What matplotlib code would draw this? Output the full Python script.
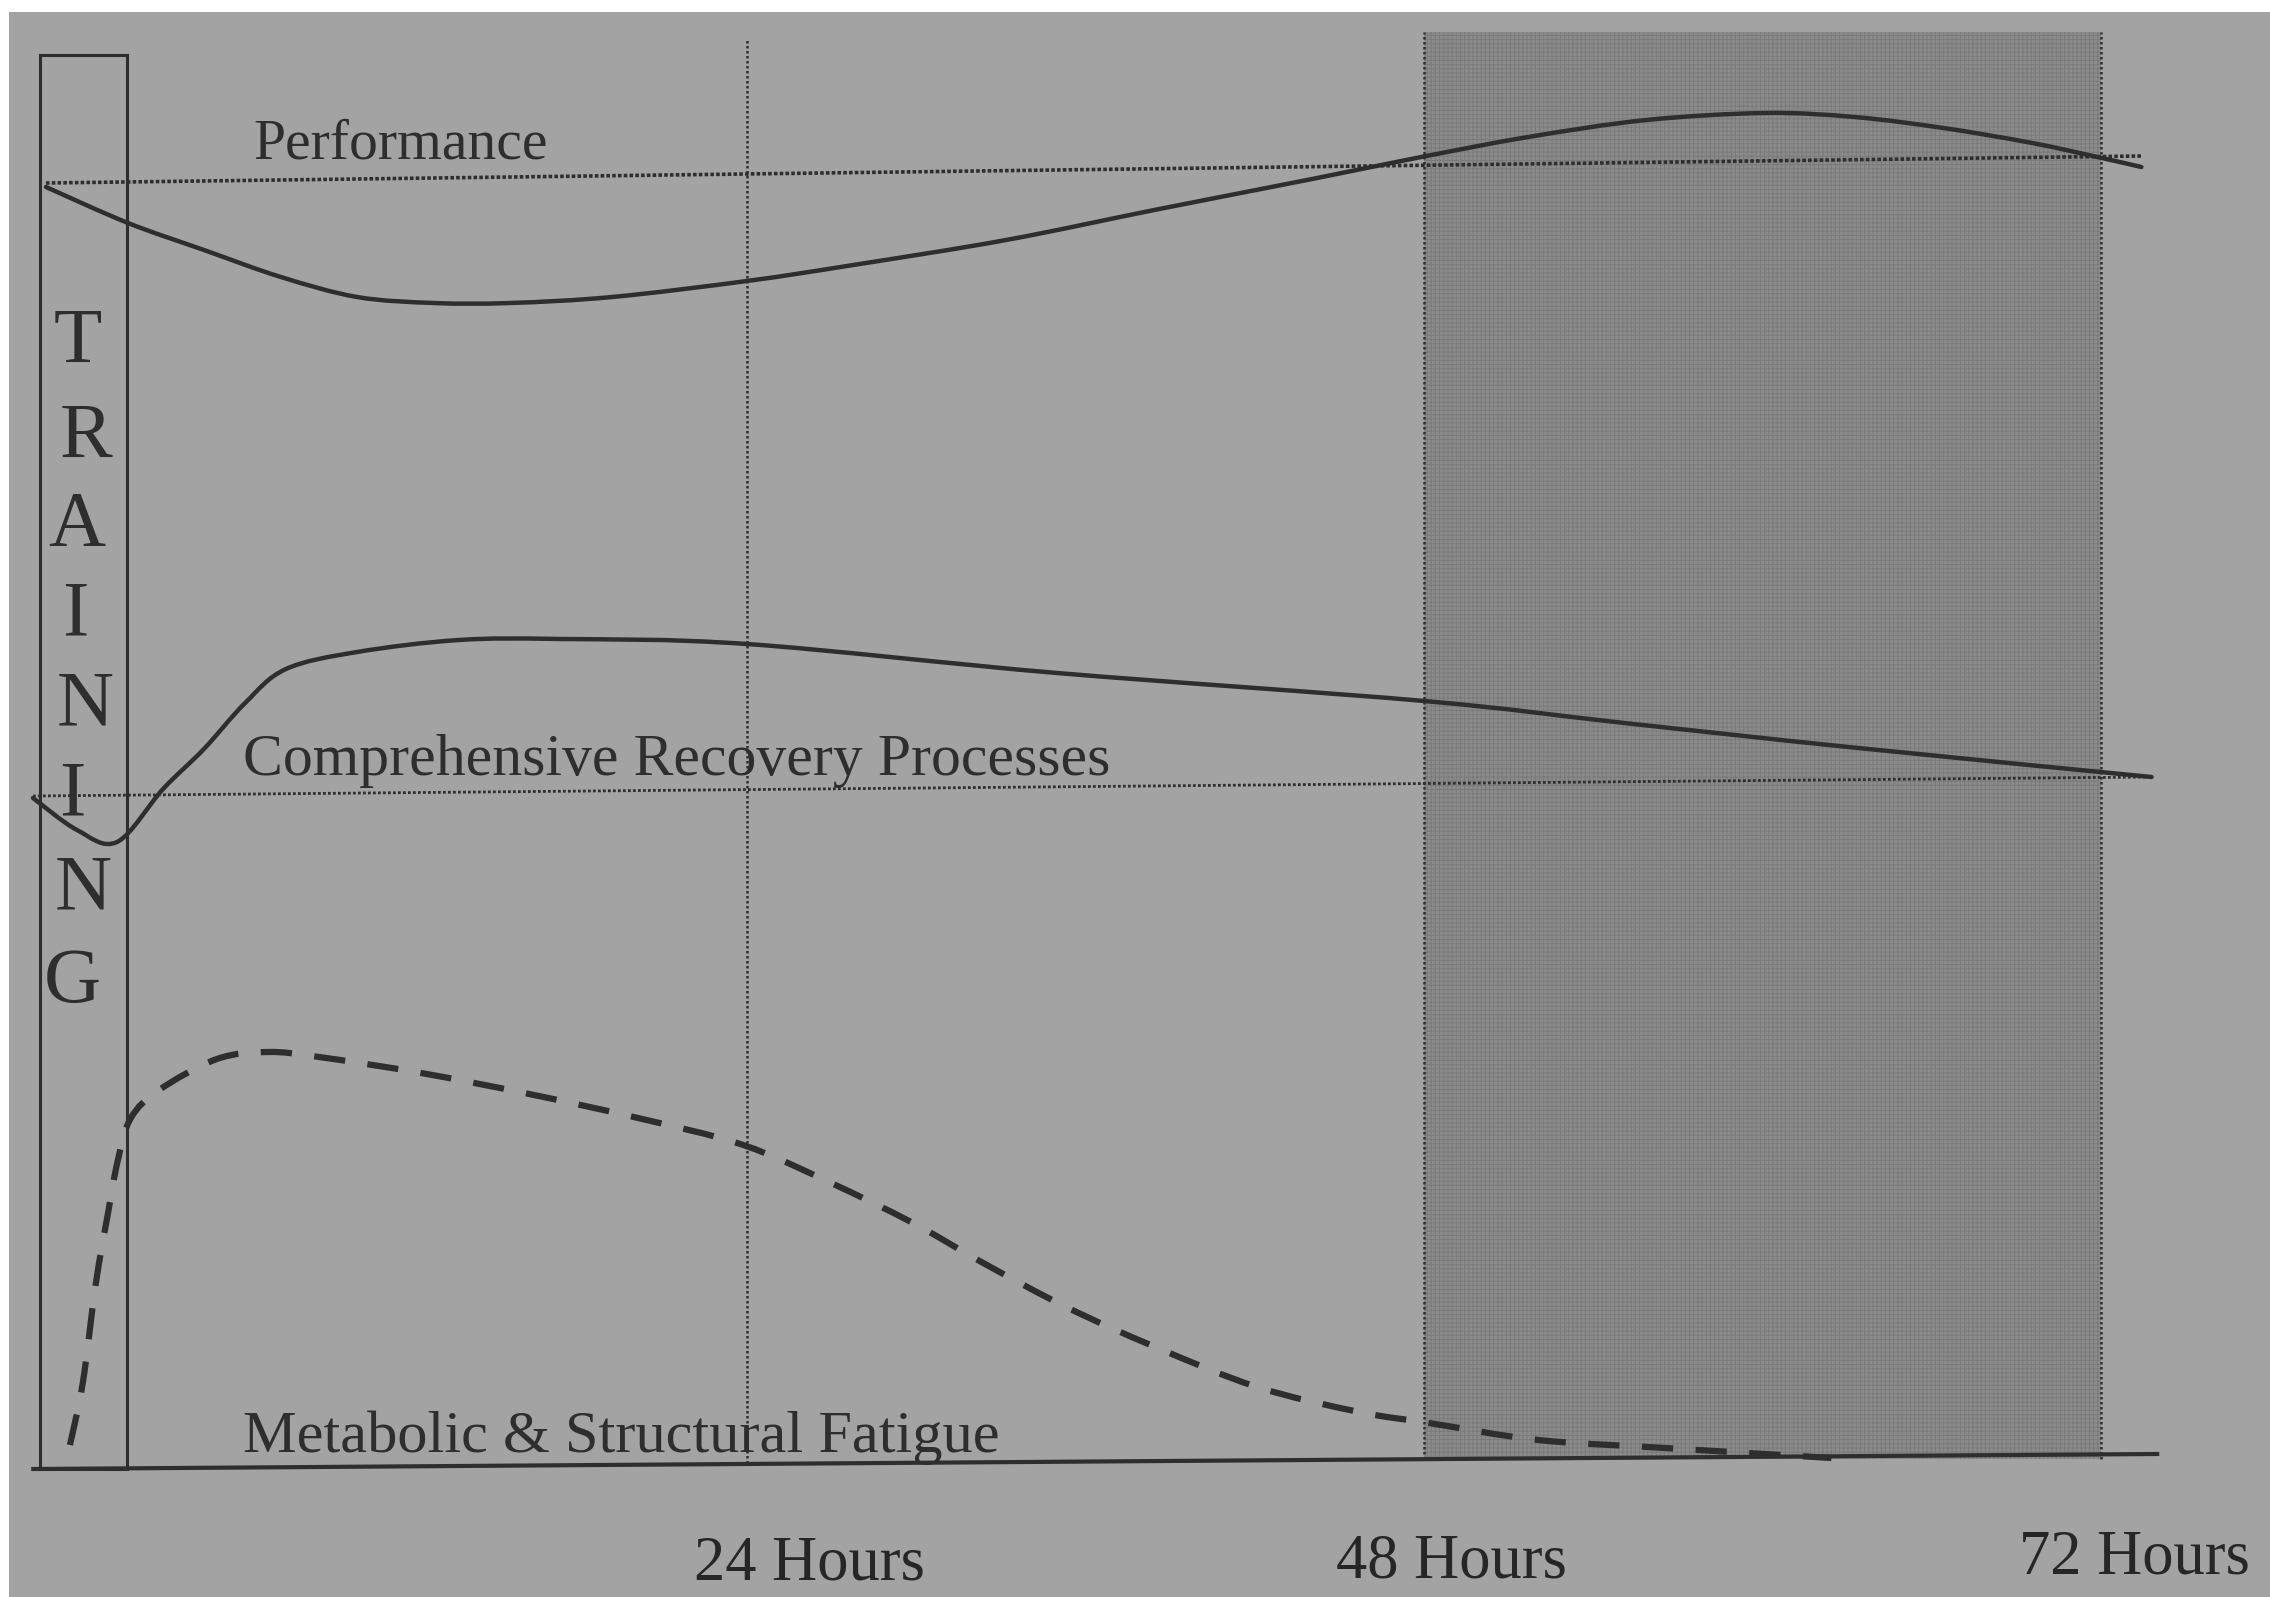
import numpy as np
import matplotlib
matplotlib.use("Agg")
import matplotlib.pyplot as plt
from matplotlib.patches import Rectangle, PathPatch
from matplotlib.path import Path

# hours after training (x) and arbitrary level (y)
perf_x = [-0.85, 2.06, 4.75, 7.48, 10.18, 12.91, 15.60, 19.22, 24.0, 27.77, 33.19,
          38.62, 44.04, 47.91, 51.70, 55.89, 60.11, 63.26, 66.42, 69.57, 71.88, 73.44]
perf_y = [127.8, 124.2, 121.5, 118.8, 116.8, 116.2, 116.2, 116.8, 118.4, 120.0, 122.5,
          125.6, 128.6, 130.8, 132.8, 134.5, 135.2, 134.8, 133.7, 132.2, 130.8, 129.8]
perf_base_x = [-0.85, 73.44]
perf_base_y = [128.2, 130.9]

recov_x = [-1.31, 0.25, 1.67, 3.30, 4.75, 6.21, 7.66, 10.18, 13.79, 17.41, 24.0,
           35.0, 48.01, 55.11, 63.05, 73.80]
recov_y = [66.7, 63.5, 62.3, 67.6, 71.6, 76.2, 79.6, 81.3, 82.5, 82.6, 82.1,
           79.2, 76.4, 74.2, 71.8, 68.8]
recov_base_x = [-1.31, 73.80]
recov_base_y = [66.9, 68.8]

fat_x = [0.0, 0.46, 0.92, 1.35, 1.70, 2.16, 3.16, 5.21, 7.02, 8.83, 12.45, 16.28,
         20.14, 23.87, 26.91, 29.89, 32.38, 35.32, 38.48, 42.09, 45.71, 48.19,
         52.06, 56.56, 62.45]
fat_y = [2.0, 8.3, 18.2, 25.2, 30.5, 34.7, 37.5, 40.6, 41.3, 40.8, 39.2, 37.1,
         34.7, 32.0, 28.3, 24.2, 20.2, 15.8, 11.8, 7.8, 5.3, 4.2, 2.5, 1.7, 0.7]

axis_x = [-1.3, 74.0]
axis_y = [-0.4, 1.1]

hour_marks = [24, 48, 72]
hour_labels = ["24 Hours", "48 Hours", "72 Hours"]
training_word = "TRAINING"

BG = "#a3a3a3"
INK = "#2e2e2e"
SERIF = ["Liberation Serif", "DejaVu Serif"]


def smooth_curve(xs, ys):
    # catmull-rom through the read points, drawn as cubic beziers
    p = np.column_stack([xs, ys])
    p = np.vstack([p[0], p, p[-1]])
    verts = [p[1]]
    codes = [Path.MOVETO]
    for i in range(1, len(p) - 2):
        c1 = p[i] + (p[i + 1] - p[i - 1]) / 6.0
        c2 = p[i + 1] - (p[i + 2] - p[i]) / 6.0
        verts += [c1, c2, p[i + 1]]
        codes += [Path.CURVE4] * 3
    return Path(verts, codes)


def main():
    plt.rcParams["hatch.linewidth"] = 0.7
    fig = plt.figure(figsize=(22.7, 15.97), dpi=100, facecolor=BG)
    ax = fig.add_axes([0, 0, 1, 1])
    ax.set_xlim(-2.48, 78.0)
    ax.set_ylim(-13.2, 146.5)
    ax.axis("off")

    # white paper edge of the photo
    fig.patches.append(Rectangle((0, 0.9925), 1, 0.0075, transform=fig.transFigure,
                                 facecolor="white", edgecolor="none", zorder=0))
    fig.patches.append(Rectangle((0, 0), 0.004, 1, transform=fig.transFigure,
                                 facecolor="white", edgecolor="none", zorder=0))

    # shaded 48-72 h window
    ax.fill_between([hour_marks[1], hour_marks[2]], 0.6, 143.3, facecolor="#8b8b8b",
                    edgecolor="#7a7a7a", hatch="++++", linewidth=0, zorder=1)

    # vertical dotted hour lines
    ax.plot([hour_marks[0]] * 2, [0.2, 142.7], color=INK, lw=1.8, ls=(0, (1, 1)), zorder=2)
    for h in hour_marks[1:]:
        ax.plot([h, h], [0.6, 143.3], color=INK, lw=1.8, ls=(0, (1, 1)), zorder=2)

    # training box
    ax.add_patch(Rectangle((-1.06, -0.4), 3.08, 141.4, fill=False, edgecolor=INK,
                           lw=2.2, zorder=3))
    ys = [112.2, 102.7, 93.9, 84.9, 75.9, 66.9, 57.5, 48.2]
    xs = [0.28, 0.57, 0.25, 0.18, 0.53, 0.07, 0.46, 0.07]
    for ch, x, y in zip(training_word, xs, ys):
        ax.text(x, y, ch, ha="center", va="center", fontsize=57, color=INK,
                family=SERIF, zorder=4)

    # baselines
    ax.plot(perf_base_x, perf_base_y, color=INK, lw=2.6, ls=(0, (1, 0.6)), zorder=3)
    ax.plot(recov_base_x, recov_base_y, color=INK, lw=2.0, ls=(0, (1, 0.8)), zorder=3)

    # curves
    ax.add_patch(PathPatch(smooth_curve(perf_x, perf_y), fill=False, edgecolor=INK,
                           lw=3.2, capstyle="round", zorder=4))
    ax.add_patch(PathPatch(smooth_curve(recov_x, recov_y), fill=False, edgecolor=INK,
                           lw=3.2, capstyle="round", zorder=4))
    ax.add_patch(PathPatch(smooth_curve(fat_x, fat_y), fill=False, edgecolor=INK,
                           lw=4.5, ls=(0, (5, 3.6)), zorder=4))

    # x axis
    ax.plot(axis_x, axis_y, color=INK, lw=3.0, zorder=4)

    # labels
    ax.text(6.5, 130.6, "Performance", fontsize=41.5, color=INK, family=SERIF,
            ha="left", va="baseline", zorder=5)
    ax.text(6.13, 69.0, "Comprehensive Recovery Processes", fontsize=43, color=INK,
            family=SERIF, ha="left", va="baseline", zorder=5)
    ax.text(6.13, 1.3, "Metabolic & Structural Fatigue", fontsize=43.5, color=INK,
            family=SERIF, ha="left", va="baseline", zorder=5)
    for x, y, lab in zip([26.2, 48.97, 73.2], [-11.5, -11.3, -10.8], hour_labels):
        ax.text(x, y, lab, fontsize=45, color="#262626", family=SERIF,
                ha="center", va="baseline", zorder=5)

    fig.savefig("out.png", dpi=100, facecolor=BG)


if __name__ == "__main__":
    main()
